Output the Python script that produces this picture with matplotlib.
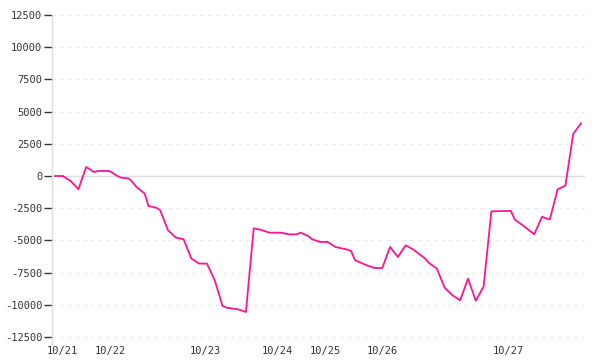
import matplotlib
matplotlib.use("Agg")
import matplotlib.pyplot as plt

# trade index (x) and cumulative P/L (y)
trade_idx = [0, 2, 3, 4, 6, 8, 10, 11, 14, 16, 17, 19, 20, 21, 23, 24, 26, 27,
             29, 31, 33, 35, 37, 39, 41, 43, 44, 47, 49, 51, 53, 55, 58, 60, 62,
             63, 65, 66, 68, 70, 71, 72, 75, 76, 77, 80, 82, 84, 86, 88, 90, 92,
             95, 96, 98, 100, 102, 104, 106, 108, 110, 112, 117, 118, 120, 123,
             125, 127, 129, 131, 133, 135]
pnl = [0, 0, -200, -380, -1030, 700, 310, 390, 390, 0, -130, -200, -520, -880,
       -1360, -2330, -2460, -2660, -4210, -4780, -4910, -6410, -6800, -6800,
       -8100, -10090, -10220, -10350, -10560, -4060, -4190, -4400, -4400,
       -4530, -4530, -4400, -4660, -4910, -5120, -5120, -5320, -5510, -5710,
       -5820, -6540, -6930, -7140, -7140, -5510, -6290, -5380, -5720, -6410,
       -6750, -7190, -8670, -9260, -9650, -7970, -9680, -8590, -2740, -2710,
       -3380, -3820, -4520, -3170, -3380, -1030, -750, 3260, 4090]

day_labels = ["10/21", "10/22", "10/23", "10/24", "10/25", "10/26", "10/27"]
day_pos = [1.8, 14.1, 38.5, 57.0, 69.3, 83.9, 116.3]

y_ticks = [-12500, -10000, -7500, -5000, -2500, 0, 2500, 5000, 7500, 10000, 12500]

fig = plt.figure(figsize=(6, 3.6), dpi=100)
ax = fig.add_axes([52 / 600, 15 / 360, (585 - 52) / 600, 330 / 360])

# grid lines
for v in y_ticks:
    if v == 0:
        ax.axhline(v, color="#dddddd", lw=1, zorder=1)
    else:
        ax.axhline(v, color="#e8e8e8", lw=0.8, ls=(0, (3, 4)), zorder=1)

ax.plot(trade_idx, pnl, color="#ff1493", lw=1.3, zorder=3)

ax.set_xlim(-0.77, 136.03)
ax.set_ylim(-13120, 12500)

for s in ["top", "right", "bottom"]:
    ax.spines[s].set_visible(False)
ax.spines["left"].set_color("#dddddd")
ax.spines["left"].set_linewidth(1)

mono = "DejaVu Sans Mono"
ax.set_yticks(y_ticks)
ax.set_yticklabels([str(v) for v in y_ticks], fontsize=7.5, family=mono,
                   color="#333333")
ax.tick_params(axis="y", length=6, width=1, color="#333333", pad=1)

ax.set_xticks(day_pos)
ax.set_xticklabels(day_labels, fontsize=7.5, family=mono, color="#333333")
ax.tick_params(axis="x", length=0, pad=1)

fig.savefig("out.png", dpi=100)
